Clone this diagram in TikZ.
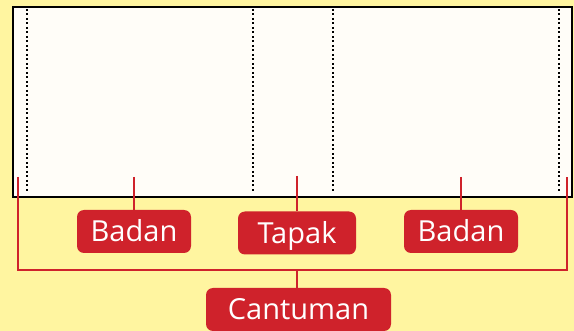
\documentclass[tikz,border=0pt]{standalone}
\usepackage{fontspec}
\setmainfont{Open Sans}
\usepackage{tikz}
\usetikzlibrary{positioning}
\definecolor{bgyellow}{RGB}{255,245,160}
\definecolor{paper}{RGB}{255,253,248}
\definecolor{labelred}{RGB}{207,34,43}
\tikzstyle{badge} = [fill=labelred, text=white, rounded corners=7pt, text height=32pt, text depth=11pt, inner sep=0pt, font=\fontsize{29}{31}\selectfont]
\tikzstyle{tick} = [draw=labelred, line width=2pt]
\tikzstyle{fold} = [draw=black, line width=2pt, dash pattern=on 2pt off 2.5pt]

\begin{document}
\begin{tikzpicture}[x=1pt, y=-1pt]
        % latar
        \fill [bgyellow] (0,0) rectangle (574,331);
        \useasboundingbox (0,0) rectangle (574,331);

        % kertas dan garis lipatan
        \node [draw, line width=2pt, fill=paper, minimum width=559pt, minimum height=190pt, inner sep=0pt, anchor=north west] (kertas) at (12,6) {};
        \foreach \x in {27,253,333,559}
            \draw [fold] (\x,9) -- (\x,193);

        % label
        \node [badge, minimum width=114pt] (badan1) at (134,231.5) {Badan};
        \node [badge, minimum width=118pt] (tapak) at (297,233) {Tapak};
        \node [badge, minimum width=114pt] (badan2) at (461,231.5) {Badan};
        \node [badge, minimum width=185pt] (cantuman) at (298.5,309.5) {Cantuman};

        \coordinate (b1) at (134,177);
        \coordinate (tp) at (297,176);
        \coordinate (b2) at (461,177);
        \coordinate (kiri) at (18,177);
        \coordinate (kanan) at (567,177);
        \coordinate (tengah) at (297,270);

        \draw [tick] (b1) -- (badan1);
        \draw [tick] (tp) -- (tapak);
        \draw [tick] (b2) -- (badan2);
        % cantuman
        \draw [tick] (kiri) |- (tengah) -| (kanan);
        \draw [tick] (tengah) -- (tengah |- cantuman.north);
    \end{tikzpicture}
\end{document}
